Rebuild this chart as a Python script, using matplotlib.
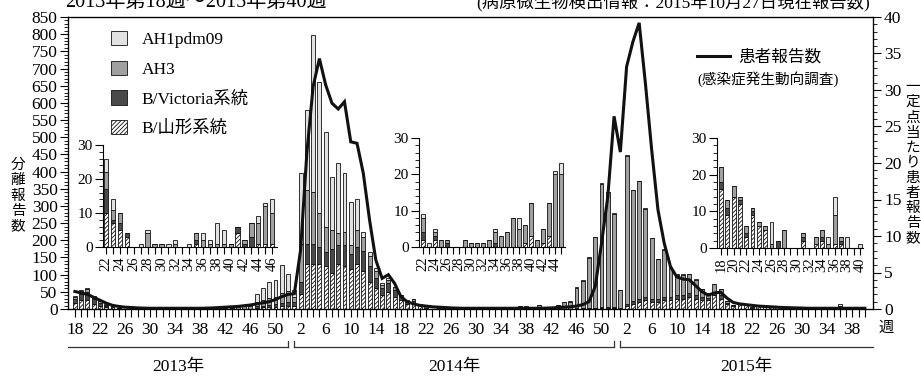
import numpy as np
import matplotlib
matplotlib.use('Agg')
import matplotlib.pyplot as plt
from matplotlib.patches import Patch
from matplotlib.lines import Line2D
from matplotlib.ticker import MultipleLocator

plt.rcParams['font.family'] = ['Liberation Serif', 'Noto Sans CJK JP']
plt.rcParams['hatch.linewidth'] = 0.6

# weeks shown: 2013w18-w52, 2014w1-w52, 2015w1-w40
weeks_2013 = list(range(18, 53))
weeks_2014 = list(range(1, 53))
weeks_2015 = list(range(1, 41))

# isolates per week, by type
byam_2013 = [18, 25, 25, 15, 10, 7, 5, 3, 0, 0, 0, 0, 0, 0, 0, 0, 0, 1, 0, 0, 0, 0, 0, 4, 0, 0, 1, 1, 1,
             3, 5, 5, 5, 8, 10]
bvic_2013 = [12, 20, 25, 15, 7, 1, 2, 1, 0, 0, 0, 0, 0, 0, 0, 0, 0, 1, 0, 0, 0, 0, 0, 2, 1, 3, 0, 0, 0,
             5, 5, 8, 10, 10, 10]
ah3_2013 = [5, 8, 7, 5, 5, 3, 3, 0, 0, 0, 4, 1, 1, 0, 1, 0, 0, 2, 2, 1, 1, 1, 1, 0, 1, 4, 6, 11, 9,
            13, 15, 20, 20, 30, 33]
ah1_2013 = [2, 2, 3, 2, 4, 3, 0, 0, 0, 1, 1, 0, 0, 1, 1, 0, 1, 0, 2, 1, 6, 4, 0, 0, 0, 0, 2, 1, 4,
            22, 35, 46, 49, 79, 50]

byam_2014 = [10, 45, 130, 130, 130, 125, 105, 130, 125, 115, 130, 110, 80, 60, 40, 50, 35, 25, 15, 17, 9,
             2, 0, 2, 0, 0, 0, 0, 0, 0, 0, 0, 0, 0, 0, 0, 0, 0, 1, 3, 0, 1, 3, 0, 0,
             1, 1, 1, 2, 3, 3, 3]
bvic_2014 = [10, 35, 60, 60, 50, 40, 70, 55, 60, 45, 50, 60, 45, 30, 20, 25, 20, 10, 6, 7, 3,
             2, 0, 1, 0, 1, 0, 0, 0, 0, 0, 0, 0, 1, 0, 0, 0, 0, 0, 0, 0, 0, 0, 0, 0,
             1, 1, 2, 2, 3, 3, 3]
ah3_2014 = [15, 110, 155, 150, 100, 75, 55, 35, 40, 25, 50, 40, 30, 20, 10, 10, 8, 5, 3, 4, 2,
            4, 0, 1, 2, 1, 0, 0, 2, 1, 1, 1, 2, 3, 3, 4, 8, 5, 5, 9, 2, 4, 9, 20, 20,
            60, 80, 145, 205, 358, 334, 271]
ah1_2014 = [20, 205, 234, 458, 382, 276, 155, 204, 170, 127, 90, 13, 10, 10, 5, 4, 2, 1, 1, 1, 1,
            1, 1, 1, 0, 0, 0, 0, 0, 0, 0, 0, 0, 1, 0, 0, 0, 3, 0, 0, 0, 0, 0, 1, 3,
            3, 2, 2, 2, 2, 2, 2]

byam_2015 = [2, 10, 15, 20, 25, 20, 20, 25, 25, 30, 30, 35, 30, 25, 25, 40, 30,
             16, 9, 14, 12, 3, 9, 6, 5, 0, 0, 0, 0, 0, 2, 0, 1, 2, 0, 1, 1, 0, 0, 0]
bvic_2015 = [2, 5, 8, 10, 10, 10, 8, 10, 10, 10, 12, 12, 12, 10, 8, 10, 10,
             2, 2, 0, 1, 1, 1, 0, 0, 0, 2, 0, 0, 0, 1, 0, 0, 1, 0, 0, 1, 0, 0, 0]
ah3_2015 = [50, 430, 322, 342, 256, 176, 117, 137, 85, 60, 58, 54, 43, 23, 13, 23, 17,
            4, 2, 3, 1, 2, 1, 1, 1, 1, 0, 5, 0, 0, 1, 0, 2, 2, 1, 8, 1, 0, 0, 0]
ah1_2015 = [1, 3, 2, 2, 2, 2, 2, 2, 2, 2, 2, 2, 2, 0, 0, 0, 0,
            0, 0, 0, 0, 0, 0, 0, 0, 6, 0, 0, 0, 0, 0, 0, 0, 0, 2, 5, 0, 3, 0, 1]

# patients per sentinel site
pat_2013 = [2.4, 2.2, 2.0, 1.6, 1.2, 0.8, 0.5, 0.35, 0.25, 0.2, 0.15, 0.12, 0.1, 0.1, 0.1, 0.1, 0.1,
            0.1, 0.1, 0.1, 0.1, 0.12, 0.15, 0.2, 0.25, 0.3, 0.35, 0.45, 0.55, 0.7, 0.85, 1.0, 1.3,
            1.7, 2.0]
pat_2014 = [2.1, 8.1, 21.4, 30.5, 34.3, 30.7, 28.2, 27.4, 28.4, 22.9, 22.7, 18.6, 12.2, 6.7, 4.2,
            4.7, 3.5, 1.7, 1.0, 0.7, 0.5, 0.4, 0.3, 0.25, 0.2, 0.15, 0.12, 0.1, 0.1, 0.1, 0.1, 0.1,
            0.1, 0.1, 0.1, 0.1, 0.1, 0.1, 0.1, 0.1, 0.12, 0.15, 0.2, 0.25, 0.3, 0.4, 0.6, 1.0, 3.1,
            9.0, 15.4, 26.4]
pat_2015 = [21.5, 33.2, 36.6, 39.2, 30.9, 21.8, 13.6, 9.0, 5.8, 4.4, 4.1, 4.0, 3.2, 2.4, 1.9, 2.2,
            2.3, 1.5, 0.9, 0.7, 0.6, 0.5, 0.4, 0.35, 0.3, 0.25, 0.2, 0.18, 0.15, 0.13, 0.1, 0.1,
            0.1, 0.1, 0.1, 0.1, 0.1, 0.1, 0.1, 0.1]

weeks = weeks_2013 + weeks_2014 + weeks_2015
byam = np.array(byam_2013 + byam_2014 + byam_2015, dtype=float)
bvic = np.array(bvic_2013 + bvic_2014 + bvic_2015, dtype=float)
ah3 = np.array(ah3_2013 + ah3_2014 + ah3_2015, dtype=float)
ah1 = np.array(ah1_2013 + ah1_2014 + ah1_2015, dtype=float)
patients = np.array(pat_2013 + pat_2014 + pat_2015)
x = np.arange(len(weeks))

W, H = 921, 376


def fx(px):
    return px / W


def fy(py):
    return 1 - py / H


styles = [('white', '////////'), ('#4a4a4a', None), ('#a0a0a0', None), ('#e2e2e2', None)]
names = ['B/山形系統', 'B/Victoria系統', 'AH3', 'AH1pdm09']


def stack(axis, xs, sl, width):
    bottom = np.zeros(len(xs))
    for vals, (face, hatch) in zip([byam, bvic, ah3, ah1], styles):
        v = vals[sl]
        axis.bar(xs, v, width=width, bottom=bottom, color=face, edgecolor='#111111',
                 linewidth=0.6, hatch=hatch)
        bottom += v


fig = plt.figure(figsize=(9.21, 3.76), dpi=100)
ax = fig.add_axes([fx(68), fy(309), (873 - 68) / W, (309 - 17) / H])
stack(ax, x, slice(None), 0.62)
ax.set_xlim(-1.1, 127.3)
ax.set_ylim(0, 850)
ax.yaxis.set_major_locator(MultipleLocator(50))
ax.yaxis.set_minor_locator(MultipleLocator(10))
ax.set_xticks(x)
ax.set_xticklabels([str(w) if i % 4 == 0 else '' for i, w in enumerate(weeks)])
ax.tick_params(axis='x', length=6, width=0.8, pad=3, labelsize=12.5)
ax.tick_params(axis='y', which='major', length=6, width=0.8, pad=1.5, labelsize=12.5)
ax.tick_params(axis='y', which='minor', length=3, width=0.6)
for s in ax.spines.values():
    s.set_linewidth(0.9)

ax2 = ax.twinx()
ax2.plot(x, patients, color='#111111', lw=2.2, solid_joinstyle='miter')
ax2.set_ylim(0, 40)
ax2.yaxis.set_major_locator(MultipleLocator(5))
ax2.yaxis.set_minor_locator(MultipleLocator(1))
ax2.tick_params(axis='y', which='major', length=6, width=0.8, pad=2, labelsize=12.5)
ax2.tick_params(axis='y', which='minor', length=3, width=0.6)

# year brackets
tr = ax.get_xaxis_transform()
yb, yt = -0.13, -0.108
for x0, x1, lab, lt, rt in [(-1.1, 34.0, '2013年', False, True),
                            (35.0, 86.0, '2014年', True, True),
                            (87.0, 127.3, '2015年', True, False)]:
    ax.plot([x0, x1], [yb, yb], color='#333333', lw=0.9, transform=tr, clip_on=False)
    if lt:
        ax.plot([x0, x0], [yb, yt], color='#333333', lw=0.9, transform=tr, clip_on=False)
    if rt:
        ax.plot([x1, x1], [yb, yt], color='#333333', lw=0.9, transform=tr, clip_on=False)
    ax.text((x0 + x1) / 2, -0.2, lab, transform=tr, ha='center', va='center', fontsize=12.5)

# legends
handles = [Patch(facecolor=f, edgecolor='#111111', hatch=h, linewidth=0.6) for f, h in styles]
leg = ax.legend(handles[::-1], names[::-1], loc='upper left', bbox_to_anchor=(fx(111), fy(31)),
                bbox_transform=fig.transFigure, frameon=False, fontsize=12.5, handlelength=0.95,
                handleheight=0.9, handletextpad=0.8, labelspacing=0.72, borderpad=0, borderaxespad=0)
ax2.legend([Line2D([0], [0], color='#111111', lw=2.2)], ['患者報告数'], loc='upper left',
           bbox_to_anchor=(fx(697), fy(50)), bbox_transform=fig.transFigure, frameon=False,
           fontsize=12, handlelength=2.0, handletextpad=0.5, borderpad=0, borderaxespad=0)
fig.text(fx(697), fy(79), '(感染症発生動向調査)', ha='left', va='center', fontsize=10.5)

# insets
for rect, lo, hi, xlim in [((103, 277, 247, 145), 4, 29, (21.55, 46.7)),
                           ((419, 565, 247, 138), 56, 80, (21.33, 45.67)),
                           ((717, 863, 248, 138), 104, 127, (17.37, 40.5))]:
    l, r, b, t = rect
    a = fig.add_axes([fx(l), fy(b), (r - l) / W, (b - t) / H])
    a.patch.set_visible(False)
    wk = np.array(weeks[lo:hi])
    stack(a, wk, slice(lo, hi), 0.62)
    a.set_xlim(xlim)
    a.set_ylim(0, 30)
    a.spines['top'].set_visible(False)
    a.spines['right'].set_visible(False)
    a.set_yticks([0, 10, 20, 30])
    a.yaxis.set_minor_locator(MultipleLocator(2))
    a.set_xticks(wk)
    a.set_xticklabels([str(w) if w % 2 == 0 else '' for w in wk], rotation=90)
    a.tick_params(axis='x', length=5, width=0.8, pad=2, labelsize=10.5)
    a.tick_params(axis='y', which='major', length=6, width=0.8, pad=1.5, labelsize=11)
    a.tick_params(axis='y', which='minor', length=3, width=0.6)

# text around (the reference crops the top line)
fig.text(fx(196), fy(7), '2013年第18週～2015年第40週', ha='center', va='baseline', fontsize=14.5)
fig.text(fx(673), fy(7), '(病原微生物検出情報：2015年10月27日現在報告数)', ha='center',
         va='baseline', fontsize=12.5)
fig.text(fx(18), fy(196), '\n'.join('分離報告数'), ha='center', va='center', fontsize=10.5,
         linespacing=1.25)
fig.text(fx(913), fy(163), '\n'.join('一定点当たり患者報告数'), ha='center', va='center',
         fontsize=10.5, linespacing=1.21)
fig.text(fx(886), fy(328), '週', ha='center', va='center', fontsize=11)

fig.savefig('out.png', dpi=100)
